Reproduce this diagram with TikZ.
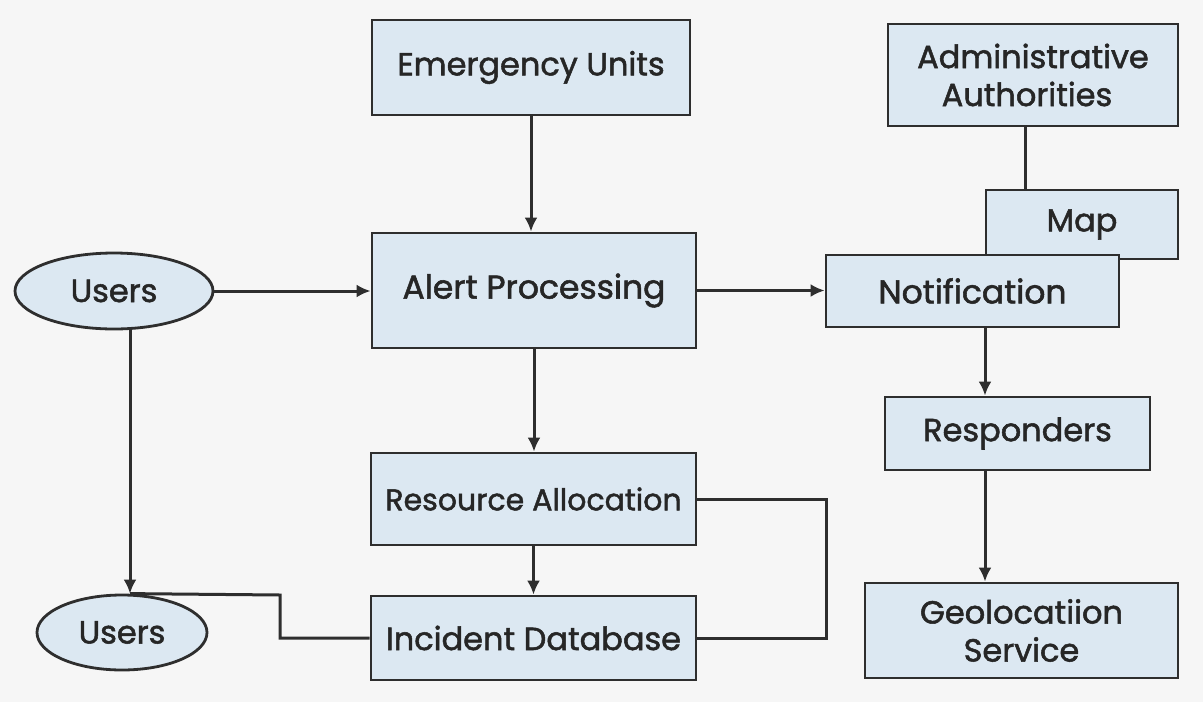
\documentclass[tikz,border=0pt]{standalone}
\usepackage{fontspec}
\setmainfont{Poppins}
\newfontfamily\lblfont{Poppins}[FakeBold=1.6]
\usetikzlibrary{arrows.meta,shapes.geometric,backgrounds}
\definecolor{boxfill}{HTML}{DCE8F2}
\definecolor{linecol}{HTML}{2E2E2E}
\definecolor{bgcol}{HTML}{F6F6F6}
\tikzset{
  box/.style={draw=linecol, line width=2.8pt, fill=boxfill, rectangle, inner sep=0pt, align=center, text=black!85, font=\lblfont\fontsize{32}{38}\selectfont},
  usr/.style={draw=linecol, line width=2.8pt, fill=boxfill, ellipse, inner sep=0pt, text=black!85, font=\lblfont\fontsize{32}{38}\selectfont},
  conn/.style={draw=linecol, line width=3pt},
  arr/.style={conn, -{Latex[length=14pt,width=13pt]}}
}
\begin{document}
\begin{tikzpicture}[x=1pt,y=-1pt]
\useasboundingbox (0,0) rectangle (1203,702);
% nodes
\node[box, minimum width=318pt, minimum height=95pt] (eu) at (531,67.5) {\raisebox{-4pt}{Emergency Units}};
\node[box, minimum width=324pt, minimum height=115pt, font=\lblfont\fontsize{33}{38}\selectfont] (ap) at (534,290.5) {Alert Processing};
\node[box, minimum width=325pt, minimum height=92pt, font=\lblfont\fontsize{30}{38}\selectfont] (ra) at (533.5,499) {Resource Allocation};
\node[box, minimum width=325pt, minimum height=84pt] (idb) at (533.5,638) {Incident Database};
\node[box, minimum width=290pt, minimum height=102pt] (adm) at (1033,75) {Administrative\\Authorities\hspace*{12pt}};
\node[box, minimum width=192pt, minimum height=69pt] (map) at (1082,224.5) {Map};
\node[box, minimum width=293pt, minimum height=72pt, font=\lblfont\fontsize{33}{38}\selectfont] (notif) at (972.5,291) {Notification};
\node[box, minimum width=265pt, minimum height=73pt] (resp) at (1017.5,433.5) {Responders};
\node[box, minimum width=313pt, minimum height=95pt] (geo) at (1021.5,630.5) {Geolocatiion\\Service};
\node[usr, minimum width=198pt, minimum height=76pt] (u1) at (114,291) {Users};
\node[usr, minimum width=170pt, minimum height=75pt] (u2) at (122,632.5) {Users};
% helper coordinates
\coordinate (c1) at (130,0);
\coordinate (k1) at (280,595);
\coordinate (k2) at (826,0);
\coordinate (k3) at (1025,0);
\coordinate (k4) at (985,0);
% background and connectors
\begin{scope}[on background layer]
\fill[bgcol] (0,0) rectangle (1203,702);
\draw[arr] (eu.south) -- (ap.north -| eu.south);
\draw[arr] (u1.east) -- (u1.east -| ap.west);
\draw[arr] (ap.east) -- (ap.east -| notif.west);
\draw[arr] (ap.south) -- (ra.north -| ap.south);
\draw[arr] (ra.south) -- (idb.north);
\draw[arr] (u1.south -| c1) -- (u2.north -| c1);
\draw[conn] (u2.north -| c1) -- (k1) |- (idb.west);
\draw[conn] (ra.east) -- (ra.east -| k2) |- (idb.east);
\draw[conn] (adm.south -| k3) -- (map.north -| k3);
\draw[arr] (notif.south -| k4) -- (resp.north -| k4);
\draw[arr] (resp.south -| k4) -- (geo.north -| k4);
\end{scope}
\end{tikzpicture}
\end{document}
